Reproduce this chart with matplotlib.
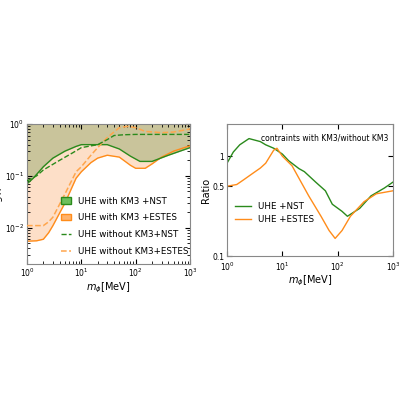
import numpy as np
import matplotlib
matplotlib.use("Agg")
import matplotlib.pyplot as plt
from matplotlib.patches import Patch
from matplotlib.lines import Line2D

# left panel data
m_nst = [1, 1.3, 2, 3, 5, 8, 10, 20, 30, 50, 80, 120, 200, 400, 1000]
g_nst = [0.07, 0.09, 0.15, 0.22, 0.3, 0.37, 0.4, 0.4, 0.4, 0.33, 0.24, 0.19, 0.19, 0.25, 0.35]
m_nst0 = [1, 1.5, 2, 4, 7, 10, 20, 30, 40, 60, 100, 200, 500, 1000]
g_nst0 = [0.08, 0.1, 0.13, 0.2, 0.28, 0.35, 0.4, 0.5, 0.6, 0.62, 0.63, 0.63, 0.63, 0.63]
m_est = [1, 1.5, 2, 2.5, 3, 5, 8, 10, 15, 20, 30, 50, 80, 100, 150, 200, 300, 500, 1000]
g_est = [0.0055, 0.0056, 0.006, 0.008, 0.011, 0.03, 0.09, 0.12, 0.18, 0.22, 0.25, 0.23, 0.16, 0.14, 0.14, 0.17, 0.23, 0.3, 0.38]
m_est0 = [1, 1.5, 2, 2.5, 3, 5, 8, 10, 15, 20, 30, 50, 70, 100, 150, 300, 500, 1000]
g_est0 = [0.011, 0.011, 0.011, 0.013, 0.016, 0.045, 0.12, 0.15, 0.25, 0.35, 0.55, 0.85, 0.9, 0.85, 0.72, 0.68, 0.7, 0.8]

# right panel data
m_r = [1, 1.3, 1.7, 2.5, 4, 5, 7, 10, 13, 20, 25, 40, 60, 80, 120, 150, 250, 400, 700, 1000]
r_nst = [0.85, 1.1, 1.3, 1.5, 1.4, 1.3, 1.2, 1.05, 0.9, 0.75, 0.7, 0.55, 0.45, 0.33, 0.28, 0.25, 0.3, 0.4, 0.48, 0.55]
m_r2 = [1, 1.5, 2, 3, 4, 5, 7, 8, 10, 15, 20, 30, 50, 70, 90, 120, 170, 300, 500, 1000]
r_est = [0.5, 0.52, 0.58, 0.68, 0.76, 0.85, 1.15, 1.2, 1.0, 0.8, 0.6, 0.4, 0.25, 0.18, 0.15, 0.18, 0.25, 0.35, 0.42, 0.45]

green = "#2a8a1c"
orange = "#ff8c1a"
orange_l = "#ffa64d"

fig = plt.figure(figsize=(4, 4), dpi=100)
ax1 = fig.add_axes([27/400, 1-264/400, 163/400, 140/400])
ax2 = fig.add_axes([227/400, 1-256/400, 166/400, 132/400])

ax1.fill_between(m_est, g_est, 1, color="#fddfc8", lw=0)
ax1.fill_between(m_nst, g_nst, 1, color="#c9c49b", lw=0)
ax1.plot(m_est, g_est, color=orange, lw=1)
ax1.plot(m_nst, g_nst, color=green, lw=1)
ax1.plot(m_est0, g_est0, color=orange_l, lw=1.1, ls="--", zorder=3)
ax1.plot(m_nst0, g_nst0, color=green, lw=1, ls="--", zorder=3)
ax1.set_xscale("log"); ax1.set_yscale("log")
ax1.set_xlim(1, 1000); ax1.set_ylim(2e-3, 1)
ax1.set_xlabel(r"$m_\phi$[MeV]", fontsize=7, labelpad=1)
ax1.set_ylabel(r"$g_{\tau\tau}$", fontsize=7, labelpad=0)
handles = [Patch(facecolor="#6dbf5c", edgecolor=green, label="UHE with KM3 +NST"),
           Patch(facecolor="#ffb26b", edgecolor=orange, label="UHE with KM3 +ESTES"),
           Line2D([], [], color=green, ls="--", lw=1, label="UHE without KM3+NST"),
           Line2D([], [], color=orange_l, ls="--", lw=1.1, label="UHE without KM3+ESTES")]
ax1.legend(handles=handles, loc="lower right", fontsize=6.3, frameon=False,
           handlelength=1.2, labelspacing=0.9, bbox_to_anchor=(1.04, 0.0))

ax2.plot(m_r, r_nst, color=green, lw=1, label="UHE +NST")
ax2.plot(m_r2, r_est, color=orange, lw=1, label="UHE +ESTES")
ax2.set_xscale("log"); ax2.set_yscale("log")
ax2.set_xlim(1, 1000); ax2.set_ylim(0.1, 2.1)
ax2.set_yticks([0.1, 0.5, 1]); ax2.set_yticklabels(["0.1", "0.5", "1"])
ax2.minorticks_off()
ax2.set_xlabel(r"$m_\phi$[MeV]", fontsize=7, labelpad=1)
ax2.set_ylabel("Ratio", fontsize=7, labelpad=1)
ax2.text(0.97, 0.93, "contraints with KM3/without KM3", transform=ax2.transAxes,
         ha="right", va="top", fontsize=5.5)
ax2.legend(loc="lower left", fontsize=6.3, frameon=False, handlelength=1.8,
           bbox_to_anchor=(0.0, 0.18))

for ax in (ax1, ax2):
    ax.tick_params(labelsize=5.5, direction="in", which="both", top=True, right=True, pad=2)
    for s in ax.spines.values():
        s.set_color("#888888")
ax2.tick_params(axis="x", pad=3)

fig.savefig("out.png", dpi=100)
